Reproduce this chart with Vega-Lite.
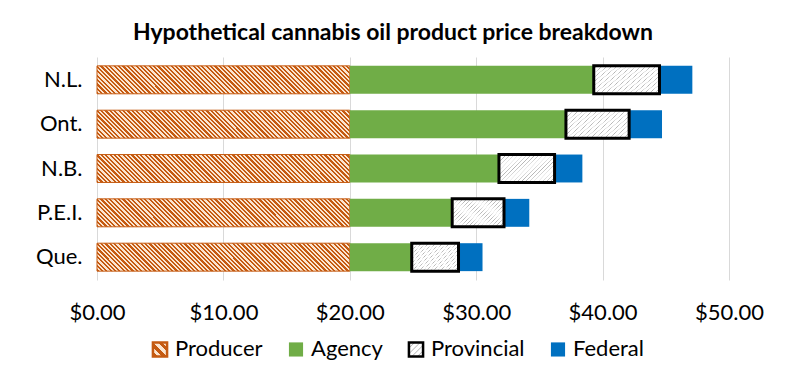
{
  "$schema": "https://vega.github.io/schema/vega-lite/v6.json",
  "width": 632,
  "height": 223,
  "autosize": {"type": "none"},
  "padding": {"left": 97, "top": 57, "right": 59, "bottom": 103},
  "background": "white",
  "title": {"text": "Hypothetical cannabis oil product price breakdown", "font": "Lato", "fontSize": 23, "fontWeight": "bold", "color": "#000000", "anchor": "middle", "offset": 12, "dx": -20},
  "data": {"values": [
    {"province": "N.L.", "component": "Producer", "value": 20},
    {"province": "Ont.", "component": "Producer", "value": 20},
    {"province": "N.B.", "component": "Producer", "value": 20},
    {"province": "P.E.I.", "component": "Producer", "value": 20},
    {"province": "Que.", "component": "Producer", "value": 20},
    {"province": "N.L.", "component": "Agency", "value": 19.3},
    {"province": "Ont.", "component": "Agency", "value": 17.1},
    {"province": "N.B.", "component": "Agency", "value": 11.8},
    {"province": "P.E.I.", "component": "Agency", "value": 8.1},
    {"province": "Que.", "component": "Agency", "value": 4.9},
    {"province": "N.L.", "component": "Federal", "value": 2.6},
    {"province": "Ont.", "component": "Federal", "value": 2.6},
    {"province": "N.B.", "component": "Federal", "value": 2.2},
    {"province": "P.E.I.", "component": "Federal", "value": 2.0},
    {"province": "Que.", "component": "Federal", "value": 1.9},
    {"province": "N.L.", "component": "Provincial", "value": 5.2},
    {"province": "Ont.", "component": "Provincial", "value": 5.0},
    {"province": "N.B.", "component": "Provincial", "value": 4.4},
    {"province": "P.E.I.", "component": "Provincial", "value": 4.1},
    {"province": "Que.", "component": "Provincial", "value": 3.7}
  ]},
  "transform": [{"calculate": "indexof(['Producer','Agency','Provincial','Federal'], datum.component)", "as": "ord"}],
  "mark": {"type": "bar"},
  "encoding": {
    "y": {"field": "province", "type": "nominal", "sort": ["N.L.", "Ont.", "N.B.", "P.E.I.", "Que."], "scale": {"paddingInner": 0.37, "paddingOuter": 0.2}, "axis": {"title": null, "domain": false, "ticks": false, "tickSize": 0, "labelPadding": 15, "labelFont": "Lato", "labelFontSize": 22, "labelColor": "#000000", "grid": false}},
    "x": {"field": "value", "type": "quantitative", "stack": "zero", "scale": {"domain": [0, 50]}, "axis": {"title": null, "values": [0, 10, 20, 30, 40, 50], "format": "$.2f", "labelFlush": false, "domain": false, "ticks": false, "tickSize": 0, "labelPadding": 22, "labelFont": "Lato", "labelFontSize": 22, "labelColor": "#000000", "grid": true, "gridColor": "#D9D9D9", "gridWidth": 1}},
    "order": {"field": "ord", "type": "quantitative"},
    "stroke": {
      "field": "component", "type": "nominal",
      "scale": {"domain": ["Producer", "Agency", "Provincial", "Federal"], "range": ["#C55A11", "transparent", "#000000", "transparent"]},
      "legend": {"orient": "none", "legendX": 52, "legendY": 281, "direction": "horizontal", "title": null, "symbolType": "square", "symbolSize": 200, "symbolStrokeWidth": 2.5, "labelFont": "Lato", "labelFontSize": 22, "labelColor": "#000000", "labelOffset": 4, "columnPadding": 20}
    },
    "strokeWidth": {"condition": {"test": "datum.component === 'Provincial'", "value": 3}, "value": 1},
    "fill": {
      "field": "component", "type": "nominal",
      "scale": {"domain": ["Producer", "Agency", "Provincial", "Federal"], "range": [
        {"expr": "{gradient:'linear',x1:0,y1:1,x2:1,y2:0,stops:[{offset:0,color:'#C55A11'},{offset:0.1667,color:'#C55A11'},{offset:0.1667,color:'#FBE5D0'},{offset:0.3333,color:'#FBE5D0'},{offset:0.3333,color:'#C55A11'},{offset:0.5,color:'#C55A11'},{offset:0.5,color:'#FBE5D0'},{offset:0.6667,color:'#FBE5D0'},{offset:0.6667,color:'#C55A11'},{offset:0.8333,color:'#C55A11'},{offset:0.8333,color:'#FBE5D0'},{offset:1,color:'#FBE5D0'}]}"},
        "#70AD47",
        {"expr": "{gradient:'linear',x1:0,y1:0,x2:1,y2:1,stops:[{offset:0,color:'#FFFFFF'},{offset:0.16,color:'#FFFFFF'},{offset:0.2,color:'#B8B8B8'},{offset:0.24,color:'#FFFFFF'},{offset:0.36,color:'#FFFFFF'},{offset:0.4,color:'#B8B8B8'},{offset:0.44,color:'#FFFFFF'},{offset:0.56,color:'#FFFFFF'},{offset:0.6,color:'#B8B8B8'},{offset:0.64,color:'#FFFFFF'},{offset:0.76,color:'#FFFFFF'},{offset:0.8,color:'#B8B8B8'},{offset:0.84,color:'#FFFFFF'},{offset:1,color:'#FFFFFF'}]}"},
        "#0070C0"
      ]},
      "legend": {"orient": "none", "legendX": 52, "legendY": 281, "direction": "horizontal", "title": null, "symbolType": "square", "symbolSize": 200, "symbolStrokeWidth": 2.5, "labelFont": "Lato", "labelFontSize": 22, "labelColor": "#000000", "labelOffset": 4, "columnPadding": 20},
      "condition": [
        {"test": "datum.component === 'Producer'", "value": {"gradient": "linear", "x1": 0, "y1": 1, "x2": 1.097, "y2": 0.8789, "stops": [
          {"offset":0,"color":"#C55A11"},
          {"offset":0.00781,"color":"#C55A11"},{"offset":0.00781,"color":"#FBE5D0"},
          {"offset":0.01563,"color":"#FBE5D0"},{"offset":0.01563,"color":"#C55A11"},
          {"offset":0.02344,"color":"#C55A11"},{"offset":0.02344,"color":"#FBE5D0"},
          {"offset":0.03125,"color":"#FBE5D0"},{"offset":0.03125,"color":"#C55A11"},
          {"offset":0.03906,"color":"#C55A11"},{"offset":0.03906,"color":"#FBE5D0"},
          {"offset":0.04688,"color":"#FBE5D0"},{"offset":0.04688,"color":"#C55A11"},
          {"offset":0.05469,"color":"#C55A11"},{"offset":0.05469,"color":"#FBE5D0"},
          {"offset":0.0625,"color":"#FBE5D0"},{"offset":0.0625,"color":"#C55A11"},
          {"offset":0.07031,"color":"#C55A11"},{"offset":0.07031,"color":"#FBE5D0"},
          {"offset":0.07813,"color":"#FBE5D0"},{"offset":0.07813,"color":"#C55A11"},
          {"offset":0.08594,"color":"#C55A11"},{"offset":0.08594,"color":"#FBE5D0"},
          {"offset":0.09375,"color":"#FBE5D0"},{"offset":0.09375,"color":"#C55A11"},
          {"offset":0.10156,"color":"#C55A11"},{"offset":0.10156,"color":"#FBE5D0"},
          {"offset":0.10938,"color":"#FBE5D0"},{"offset":0.10938,"color":"#C55A11"},
          {"offset":0.11719,"color":"#C55A11"},{"offset":0.11719,"color":"#FBE5D0"},
          {"offset":0.125,"color":"#FBE5D0"},{"offset":0.125,"color":"#C55A11"},
          {"offset":0.13281,"color":"#C55A11"},{"offset":0.13281,"color":"#FBE5D0"},
          {"offset":0.14063,"color":"#FBE5D0"},{"offset":0.14063,"color":"#C55A11"},
          {"offset":0.14844,"color":"#C55A11"},{"offset":0.14844,"color":"#FBE5D0"},
          {"offset":0.15625,"color":"#FBE5D0"},{"offset":0.15625,"color":"#C55A11"},
          {"offset":0.16406,"color":"#C55A11"},{"offset":0.16406,"color":"#FBE5D0"},
          {"offset":0.17188,"color":"#FBE5D0"},{"offset":0.17188,"color":"#C55A11"},
          {"offset":0.17969,"color":"#C55A11"},{"offset":0.17969,"color":"#FBE5D0"},
          {"offset":0.1875,"color":"#FBE5D0"},{"offset":0.1875,"color":"#C55A11"},
          {"offset":0.19531,"color":"#C55A11"},{"offset":0.19531,"color":"#FBE5D0"},
          {"offset":0.20313,"color":"#FBE5D0"},{"offset":0.20313,"color":"#C55A11"},
          {"offset":0.21094,"color":"#C55A11"},{"offset":0.21094,"color":"#FBE5D0"},
          {"offset":0.21875,"color":"#FBE5D0"},{"offset":0.21875,"color":"#C55A11"},
          {"offset":0.22656,"color":"#C55A11"},{"offset":0.22656,"color":"#FBE5D0"},
          {"offset":0.23438,"color":"#FBE5D0"},{"offset":0.23438,"color":"#C55A11"},
          {"offset":0.24219,"color":"#C55A11"},{"offset":0.24219,"color":"#FBE5D0"},
          {"offset":0.25,"color":"#FBE5D0"},{"offset":0.25,"color":"#C55A11"},
          {"offset":0.25781,"color":"#C55A11"},{"offset":0.25781,"color":"#FBE5D0"},
          {"offset":0.26563,"color":"#FBE5D0"},{"offset":0.26563,"color":"#C55A11"},
          {"offset":0.27344,"color":"#C55A11"},{"offset":0.27344,"color":"#FBE5D0"},
          {"offset":0.28125,"color":"#FBE5D0"},{"offset":0.28125,"color":"#C55A11"},
          {"offset":0.28906,"color":"#C55A11"},{"offset":0.28906,"color":"#FBE5D0"},
          {"offset":0.29688,"color":"#FBE5D0"},{"offset":0.29688,"color":"#C55A11"},
          {"offset":0.30469,"color":"#C55A11"},{"offset":0.30469,"color":"#FBE5D0"},
          {"offset":0.3125,"color":"#FBE5D0"},{"offset":0.3125,"color":"#C55A11"},
          {"offset":0.32031,"color":"#C55A11"},{"offset":0.32031,"color":"#FBE5D0"},
          {"offset":0.32813,"color":"#FBE5D0"},{"offset":0.32813,"color":"#C55A11"},
          {"offset":0.33594,"color":"#C55A11"},{"offset":0.33594,"color":"#FBE5D0"},
          {"offset":0.34375,"color":"#FBE5D0"},{"offset":0.34375,"color":"#C55A11"},
          {"offset":0.35156,"color":"#C55A11"},{"offset":0.35156,"color":"#FBE5D0"},
          {"offset":0.35938,"color":"#FBE5D0"},{"offset":0.35938,"color":"#C55A11"},
          {"offset":0.36719,"color":"#C55A11"},{"offset":0.36719,"color":"#FBE5D0"},
          {"offset":0.375,"color":"#FBE5D0"},{"offset":0.375,"color":"#C55A11"},
          {"offset":0.38281,"color":"#C55A11"},{"offset":0.38281,"color":"#FBE5D0"},
          {"offset":0.39063,"color":"#FBE5D0"},{"offset":0.39063,"color":"#C55A11"},
          {"offset":0.39844,"color":"#C55A11"},{"offset":0.39844,"color":"#FBE5D0"},
          {"offset":0.40625,"color":"#FBE5D0"},{"offset":0.40625,"color":"#C55A11"},
          {"offset":0.41406,"color":"#C55A11"},{"offset":0.41406,"color":"#FBE5D0"},
          {"offset":0.42188,"color":"#FBE5D0"},{"offset":0.42188,"color":"#C55A11"},
          {"offset":0.42969,"color":"#C55A11"},{"offset":0.42969,"color":"#FBE5D0"},
          {"offset":0.4375,"color":"#FBE5D0"},{"offset":0.4375,"color":"#C55A11"},
          {"offset":0.44531,"color":"#C55A11"},{"offset":0.44531,"color":"#FBE5D0"},
          {"offset":0.45313,"color":"#FBE5D0"},{"offset":0.45313,"color":"#C55A11"},
          {"offset":0.46094,"color":"#C55A11"},{"offset":0.46094,"color":"#FBE5D0"},
          {"offset":0.46875,"color":"#FBE5D0"},{"offset":0.46875,"color":"#C55A11"},
          {"offset":0.47656,"color":"#C55A11"},{"offset":0.47656,"color":"#FBE5D0"},
          {"offset":0.48438,"color":"#FBE5D0"},{"offset":0.48438,"color":"#C55A11"},
          {"offset":0.49219,"color":"#C55A11"},{"offset":0.49219,"color":"#FBE5D0"},
          {"offset":0.5,"color":"#FBE5D0"},{"offset":0.5,"color":"#C55A11"},
          {"offset":0.50781,"color":"#C55A11"},{"offset":0.50781,"color":"#FBE5D0"},
          {"offset":0.51563,"color":"#FBE5D0"},{"offset":0.51563,"color":"#C55A11"},
          {"offset":0.52344,"color":"#C55A11"},{"offset":0.52344,"color":"#FBE5D0"},
          {"offset":0.53125,"color":"#FBE5D0"},{"offset":0.53125,"color":"#C55A11"},
          {"offset":0.53906,"color":"#C55A11"},{"offset":0.53906,"color":"#FBE5D0"},
          {"offset":0.54688,"color":"#FBE5D0"},{"offset":0.54688,"color":"#C55A11"},
          {"offset":0.55469,"color":"#C55A11"},{"offset":0.55469,"color":"#FBE5D0"},
          {"offset":0.5625,"color":"#FBE5D0"},{"offset":0.5625,"color":"#C55A11"},
          {"offset":0.57031,"color":"#C55A11"},{"offset":0.57031,"color":"#FBE5D0"},
          {"offset":0.57813,"color":"#FBE5D0"},{"offset":0.57813,"color":"#C55A11"},
          {"offset":0.58594,"color":"#C55A11"},{"offset":0.58594,"color":"#FBE5D0"},
          {"offset":0.59375,"color":"#FBE5D0"},{"offset":0.59375,"color":"#C55A11"},
          {"offset":0.60156,"color":"#C55A11"},{"offset":0.60156,"color":"#FBE5D0"},
          {"offset":0.60938,"color":"#FBE5D0"},{"offset":0.60938,"color":"#C55A11"},
          {"offset":0.61719,"color":"#C55A11"},{"offset":0.61719,"color":"#FBE5D0"},
          {"offset":0.625,"color":"#FBE5D0"},{"offset":0.625,"color":"#C55A11"},
          {"offset":0.63281,"color":"#C55A11"},{"offset":0.63281,"color":"#FBE5D0"},
          {"offset":0.64063,"color":"#FBE5D0"},{"offset":0.64063,"color":"#C55A11"},
          {"offset":0.64844,"color":"#C55A11"},{"offset":0.64844,"color":"#FBE5D0"},
          {"offset":0.65625,"color":"#FBE5D0"},{"offset":0.65625,"color":"#C55A11"},
          {"offset":0.66406,"color":"#C55A11"},{"offset":0.66406,"color":"#FBE5D0"},
          {"offset":0.67188,"color":"#FBE5D0"},{"offset":0.67188,"color":"#C55A11"},
          {"offset":0.67969,"color":"#C55A11"},{"offset":0.67969,"color":"#FBE5D0"},
          {"offset":0.6875,"color":"#FBE5D0"},{"offset":0.6875,"color":"#C55A11"},
          {"offset":0.69531,"color":"#C55A11"},{"offset":0.69531,"color":"#FBE5D0"},
          {"offset":0.70313,"color":"#FBE5D0"},{"offset":0.70313,"color":"#C55A11"},
          {"offset":0.71094,"color":"#C55A11"},{"offset":0.71094,"color":"#FBE5D0"},
          {"offset":0.71875,"color":"#FBE5D0"},{"offset":0.71875,"color":"#C55A11"},
          {"offset":0.72656,"color":"#C55A11"},{"offset":0.72656,"color":"#FBE5D0"},
          {"offset":0.73438,"color":"#FBE5D0"},{"offset":0.73438,"color":"#C55A11"},
          {"offset":0.74219,"color":"#C55A11"},{"offset":0.74219,"color":"#FBE5D0"},
          {"offset":0.75,"color":"#FBE5D0"},{"offset":0.75,"color":"#C55A11"},
          {"offset":0.75781,"color":"#C55A11"},{"offset":0.75781,"color":"#FBE5D0"},
          {"offset":0.76563,"color":"#FBE5D0"},{"offset":0.76563,"color":"#C55A11"},
          {"offset":0.77344,"color":"#C55A11"},{"offset":0.77344,"color":"#FBE5D0"},
          {"offset":0.78125,"color":"#FBE5D0"},{"offset":0.78125,"color":"#C55A11"},
          {"offset":0.78906,"color":"#C55A11"},{"offset":0.78906,"color":"#FBE5D0"},
          {"offset":0.79688,"color":"#FBE5D0"},{"offset":0.79688,"color":"#C55A11"},
          {"offset":0.80469,"color":"#C55A11"},{"offset":0.80469,"color":"#FBE5D0"},
          {"offset":0.8125,"color":"#FBE5D0"},{"offset":0.8125,"color":"#C55A11"},
          {"offset":0.82031,"color":"#C55A11"},{"offset":0.82031,"color":"#FBE5D0"},
          {"offset":0.82813,"color":"#FBE5D0"},{"offset":0.82813,"color":"#C55A11"},
          {"offset":0.83594,"color":"#C55A11"},{"offset":0.83594,"color":"#FBE5D0"},
          {"offset":0.84375,"color":"#FBE5D0"},{"offset":0.84375,"color":"#C55A11"},
          {"offset":0.85156,"color":"#C55A11"},{"offset":0.85156,"color":"#FBE5D0"},
          {"offset":0.85938,"color":"#FBE5D0"},{"offset":0.85938,"color":"#C55A11"},
          {"offset":0.86719,"color":"#C55A11"},{"offset":0.86719,"color":"#FBE5D0"},
          {"offset":0.875,"color":"#FBE5D0"},{"offset":0.875,"color":"#C55A11"},
          {"offset":0.88281,"color":"#C55A11"},{"offset":0.88281,"color":"#FBE5D0"},
          {"offset":0.89063,"color":"#FBE5D0"},{"offset":0.89063,"color":"#C55A11"},
          {"offset":0.89844,"color":"#C55A11"},{"offset":0.89844,"color":"#FBE5D0"},
          {"offset":0.90625,"color":"#FBE5D0"},{"offset":0.90625,"color":"#C55A11"},
          {"offset":0.91406,"color":"#C55A11"},{"offset":0.91406,"color":"#FBE5D0"},
          {"offset":0.92188,"color":"#FBE5D0"},{"offset":0.92188,"color":"#C55A11"},
          {"offset":0.92969,"color":"#C55A11"},{"offset":0.92969,"color":"#FBE5D0"},
          {"offset":0.9375,"color":"#FBE5D0"},{"offset":0.9375,"color":"#C55A11"},
          {"offset":0.94531,"color":"#C55A11"},{"offset":0.94531,"color":"#FBE5D0"},
          {"offset":0.95313,"color":"#FBE5D0"},{"offset":0.95313,"color":"#C55A11"},
          {"offset":0.96094,"color":"#C55A11"},{"offset":0.96094,"color":"#FBE5D0"},
          {"offset":0.96875,"color":"#FBE5D0"},{"offset":0.96875,"color":"#C55A11"},
          {"offset":0.97656,"color":"#C55A11"},{"offset":0.97656,"color":"#FBE5D0"},
          {"offset":0.98438,"color":"#FBE5D0"},{"offset":0.98438,"color":"#C55A11"},
          {"offset":0.99219,"color":"#C55A11"},{"offset":0.99219,"color":"#FBE5D0"},
          {"offset":1,"color":"#FBE5D0"}
        ]}},
        {"test": "datum.component === 'Provincial'", "value": {"gradient": "linear", "x1": 0, "y1": 0, "x2": 1.2015, "y2": 0.5891, "stops": [
          {"offset":0,"color":"#FFFFFF"},
          {"offset":0.033,"color":"#FFFFFF"},{"offset":0.04,"color":"#B3B3B3"},{"offset":0.047,"color":"#FFFFFF"},
          {"offset":0.083,"color":"#FFFFFF"},{"offset":0.09,"color":"#B3B3B3"},{"offset":0.097,"color":"#FFFFFF"},
          {"offset":0.133,"color":"#FFFFFF"},{"offset":0.14,"color":"#B3B3B3"},{"offset":0.147,"color":"#FFFFFF"},
          {"offset":0.183,"color":"#FFFFFF"},{"offset":0.19,"color":"#B3B3B3"},{"offset":0.197,"color":"#FFFFFF"},
          {"offset":0.233,"color":"#FFFFFF"},{"offset":0.24,"color":"#B3B3B3"},{"offset":0.247,"color":"#FFFFFF"},
          {"offset":0.283,"color":"#FFFFFF"},{"offset":0.29,"color":"#B3B3B3"},{"offset":0.297,"color":"#FFFFFF"},
          {"offset":0.333,"color":"#FFFFFF"},{"offset":0.34,"color":"#B3B3B3"},{"offset":0.347,"color":"#FFFFFF"},
          {"offset":0.383,"color":"#FFFFFF"},{"offset":0.39,"color":"#B3B3B3"},{"offset":0.397,"color":"#FFFFFF"},
          {"offset":0.433,"color":"#FFFFFF"},{"offset":0.44,"color":"#B3B3B3"},{"offset":0.447,"color":"#FFFFFF"},
          {"offset":0.483,"color":"#FFFFFF"},{"offset":0.49,"color":"#B3B3B3"},{"offset":0.497,"color":"#FFFFFF"},
          {"offset":0.533,"color":"#FFFFFF"},{"offset":0.54,"color":"#B3B3B3"},{"offset":0.547,"color":"#FFFFFF"},
          {"offset":0.583,"color":"#FFFFFF"},{"offset":0.59,"color":"#B3B3B3"},{"offset":0.597,"color":"#FFFFFF"},
          {"offset":0.633,"color":"#FFFFFF"},{"offset":0.64,"color":"#B3B3B3"},{"offset":0.647,"color":"#FFFFFF"},
          {"offset":0.683,"color":"#FFFFFF"},{"offset":0.69,"color":"#B3B3B3"},{"offset":0.697,"color":"#FFFFFF"},
          {"offset":0.733,"color":"#FFFFFF"},{"offset":0.74,"color":"#B3B3B3"},{"offset":0.747,"color":"#FFFFFF"},
          {"offset":0.783,"color":"#FFFFFF"},{"offset":0.79,"color":"#B3B3B3"},{"offset":0.797,"color":"#FFFFFF"},
          {"offset":0.833,"color":"#FFFFFF"},{"offset":0.84,"color":"#B3B3B3"},{"offset":0.847,"color":"#FFFFFF"},
          {"offset":0.883,"color":"#FFFFFF"},{"offset":0.89,"color":"#B3B3B3"},{"offset":0.897,"color":"#FFFFFF"},
          {"offset":0.933,"color":"#FFFFFF"},{"offset":0.94,"color":"#B3B3B3"},{"offset":0.947,"color":"#FFFFFF"},
          {"offset":0.983,"color":"#FFFFFF"},{"offset":0.99,"color":"#B3B3B3"},{"offset":0.997,"color":"#FFFFFF"},
          {"offset":1,"color":"#FFFFFF"}
        ]}}
      ]
    }
  },
  "config": {"view": {"stroke": null}, "font": "Lato"}
}
